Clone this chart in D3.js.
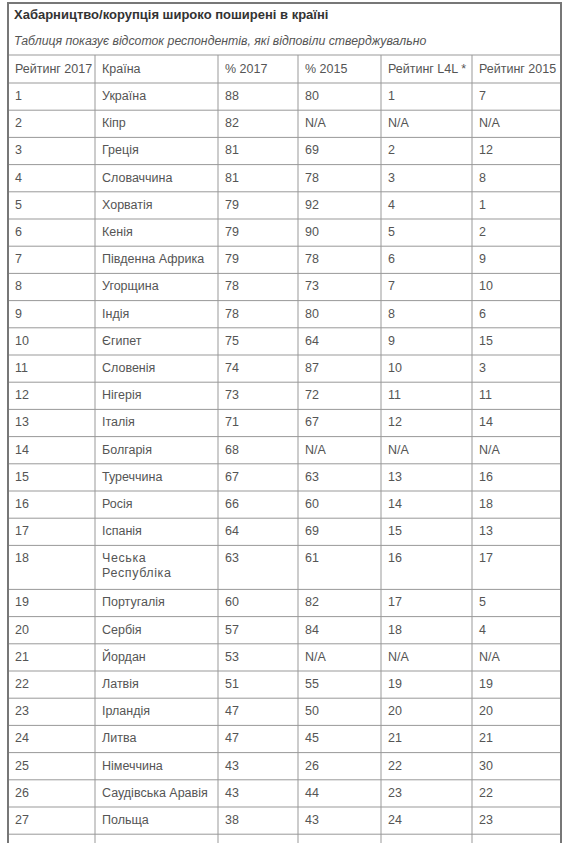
<!DOCTYPE html><html><head><meta charset="utf-8">
<script src="https://cdn.jsdelivr.net/npm/d3@7"></script>
<style>body{margin:0;background:#fff}</style></head><body><svg id="c" width="570" height="843"></svg>
<script>
const title="Хабарництво/корупція широко поширені в країні";
const subtitle="Таблиця показує відсоток респондентів, які відповіли стверджувально";
const headers=["Рейтинг 2017","Країна","% 2017","% 2015","Рейтинг L4L *","Рейтинг 2015"];
const rank2017=[1,2,3,4,5,6,7,8,9,10,11,12,13,14,15,16,17,18,19,20,21,22,23,24,25,26,27];
const countries=["Україна","Кіпр","Греція","Словаччина","Хорватія","Кенія","Південна Африка","Угорщина","Індія","Єгипет","Словенія","Нігерія","Італія","Болгарія","Туреччина","Росія","Іспанія","Чеська\nРеспубліка","Португалія","Сербія","Йордан","Латвія","Ірландія","Литва","Німеччина","Саудівська Аравія","Польща"];
const pct2017=[88,82,81,81,79,79,79,78,78,75,74,73,71,68,67,66,64,63,60,57,53,51,47,47,43,43,38];
const pct2015=[80,"N/A",69,78,92,90,78,73,80,64,87,72,67,"N/A",63,60,69,61,82,84,"N/A",55,50,45,26,44,43];
const rankL4L=[1,"N/A",2,3,4,5,6,7,8,9,10,11,12,"N/A",13,14,15,16,17,18,"N/A",19,20,21,22,23,24];
const rank2015=[7,"N/A",12,8,1,2,9,10,6,15,3,11,14,"N/A",16,18,13,17,5,4,"N/A",19,20,21,30,22,23];

const svg=d3.select("#c");
const L=8,R=561,colX=[8,95,218,298,381,472,561];
const font="Liberation Sans, Arial, sans-serif";
const rows=rank2017.map((r,i)=>[r,countries[i],pct2017[i],pct2015[i],rankL4L[i],rank2015[i]]);
const hts=rows.map(r=>String(r[1]).includes("\n")?44:27.2);
const tableTop=55, hH=28;
let ys=[tableTop+hH];hts.forEach(h=>ys.push(ys[ys.length-1]+h));
svg.append("text").attr("x",14).attr("y",19).attr("font-family",font).attr("font-size",13).attr("font-weight","bold").attr("fill","#333").text(title);
svg.append("text").attr("x",14).attr("y",45).attr("font-family",font).attr("font-size",12.3).attr("font-style","italic").attr("fill","#555").text(subtitle);
const g=svg.append("g");
const line=(x1,y1,x2,y2,c="#999",w=1)=>g.append("line").attr("x1",x1).attr("y1",y1).attr("x2",x2).attr("y2",y2).attr("stroke",c).attr("stroke-width",w);
line(L,tableTop,R,tableTop);
ys.forEach(y=>line(L,y,R,y));
colX.slice(1,-1).forEach(x=>line(x,tableTop,x,843));
g.append("path").attr("d",`M${L},843V3H${R}V843`).attr("fill","none").attr("stroke","#777").attr("stroke-width",2);
const cell=(txt,ci,y)=>{const s=String(txt);const t=svg.append("text").attr("x",colX[ci]+7).attr("y",y).attr("font-family",font).attr("font-size",12.5).attr("fill","#555");
 s.split("\n").forEach((p,k)=>t.append("tspan").attr("x",colX[ci]+7).attr("dy",k?15:0).attr("letter-spacing",s.includes("\n")?0.6:0).text(p));};
headers.forEach((h,ci)=>cell(h,ci,tableTop+18));
rows.forEach((r,i)=>r.forEach((v,ci)=>cell(v,ci,ys[i]+17)));
</script></body></html>
